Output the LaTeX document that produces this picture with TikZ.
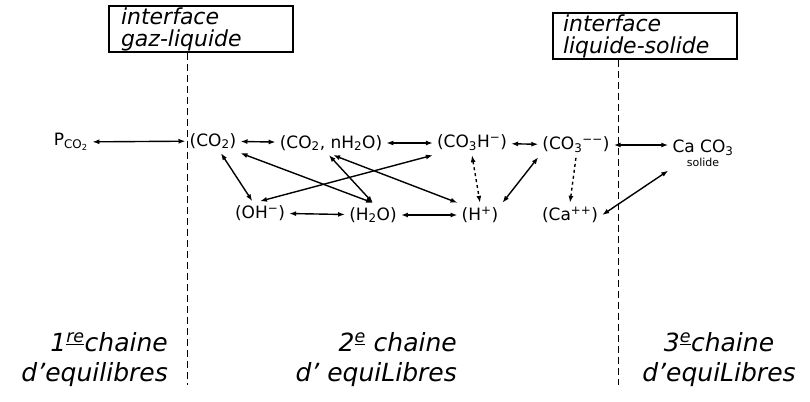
\documentclass[tikz,border=0pt]{standalone}
\usepackage{fontspec}
\setsansfont{DejaVu Sans}
\usepackage{tikz}
\usetikzlibrary{arrows.meta, positioning}

\begin{document}
\begin{tikzpicture}[
    x=1pt, y=-1pt,
    iface/.style={rectangle, draw, line width=2pt, text width=160pt,
                  align=left, inner xsep=12pt, inner ysep=1pt,
                  font=\fontsize{22}{22}\selectfont\sffamily\itshape},
    chem/.style={inner sep=4pt, font=\fontsize{17}{19}\selectfont\sffamily},
    chaine/.style={align=center, inner sep=0pt,
                   font=\fontsize{25}{30}\selectfont\sffamily\itshape},
    eq/.style={{Latex[length=7pt,width=5pt]}-{Latex[length=7pt,width=5pt]}, line width=1.4pt},
    eqdash/.style={eq, dashed},
    border/.style={dash pattern=on 7pt off 4pt, line width=0.9pt},
]
    \useasboundingbox (0,0) rectangle (810,401);

    % Interfaces
    \node[iface] (gl) at (201,29) {interface\\gaz-liquide};
    \node[iface, inner xsep=10pt, text width=164pt] (ls) at (645,36) {interface\\liquide-solide};
    \coordinate (glend) at (187,385);
    \coordinate (lsend) at (618,385);
    \draw[border] (gl.south -| glend) -- (glend);
    \draw[border] (ls.south -| lsend) -- (lsend);

    % Upper row
    \node[chem] (pco2) at (71,142) {P\textsubscript{CO\textsubscript{2}}};
    \node[chem] (co2) at (213,141) {(CO\textsubscript{2})};
    \node[chem] (co2n) at (331,143) {(CO\textsubscript{2}, nH\textsubscript{2}O)};
    \node[chem] (co3h) at (472,143) {(CO\textsubscript{3}H\textsuperscript{−})};
    \node[chem] (co3) at (576,145) {(CO\textsubscript{3}\textsuperscript{−−})};
    \node[chem, align=center] (caco3) at (703,153)
        {Ca CO\textsubscript{3}\\[-5pt]{\fontsize{11}{12}\selectfont solide}};

    % Lower row
    \node[chem] (oh) at (260,213) {(OH\textsuperscript{−})};
    \node[chem] (h2o) at (373,215) {(H\textsubscript{2}O)};
    \node[chem] (hp) at (480,215) {(H\textsuperscript{+})};
    \node[chem] (ca) at (570,215) {(Ca\textsuperscript{++})};

    % Equilibria
    \draw[eq] (pco2) -- (co2);
    \draw[eq] (co2) -- (co2n);
    \draw[eq] (co2n) -- (co3h);
    \draw[eq] (co3h) -- (co3);
    \draw[eq] (co3) -- (co3 -| caco3.west);
    \draw[eq] (co2) -- (oh);
    \draw[eq] (co2.south east) -- (h2o.north);
    \draw[eq] (co2n.-100) -- (h2o.north);
    \draw[eq] (co2n.-80) -- (hp.north west);
    \draw[eq] (oh.north) -- (co3h.south west);
    \draw[eqdash] (co3h.south) -- (hp.north);
    \draw[eq] (co3.south west) -- (hp.north east);
    \draw[eqdash, {Latex[length=7pt,width=5pt]}-] (ca.north) -- (co3.south);
    \draw[eq] (ca.east) -- (caco3.south west);
    \draw[eq] (oh) -- (h2o);
    \draw[eq] (h2o) -- (hp);

    % Chains
    \node[chaine, align=right, anchor=east] (ch1) at (168,360)
        {1\textsuperscript{\underline{re}}chaine\\d'equilibres};
    \node[chaine, align=right, anchor=east] (ch2) at (457,360)
        {2\textsuperscript{\underline{e}} chaine\\d' equiLibres};
    \node[chaine] (ch3) at (719,360)
        {3\textsuperscript{\underline{e}}chaine\\d'equiLibres};
\end{tikzpicture}
\end{document}
